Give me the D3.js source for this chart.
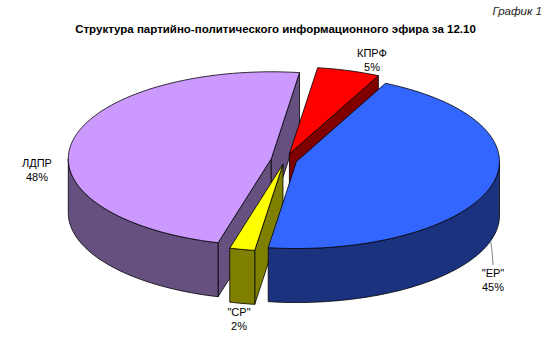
<!DOCTYPE html>
<html><head><meta charset="utf-8">
<script src="https://cdn.jsdelivr.net/npm/d3@7"></script>
<style>html,body{margin:0;padding:0;background:#fff;}svg{display:block;}</style>
</head><body>
<script>
// ---- data ----
const categories = ["КПРФ", "\"ЕР\"", "\"СР\"", "ЛДПР"];
const values = [5, 45, 2, 48];
const percentLabels = ["5%", "45%", "2%", "48%"];
const topColors = ["#FF0000", "#3366FF", "#FFFF00", "#CC99FF"];
const sideColors = ["#800000", "#1B337F", "#808000", "#66507F"];
const titleText = "Структура партийно-политического информационного эфира за 12.10";
const captionText = "График 1";

// ---- layout ----
const W = 550, H = 339;
const cx = 285, cy = 160, rx = 203, ry = 87, depth = 54;
const firstSliceDeg = 8;
const explode = [15, 12, 10, 14];
const labelAnchor = [[372, 57], [493, 277], [239, 316], [37, 167]];
const leaderTo = [null, [493, 265], null, null];

const svg = d3.select("body").append("svg").attr("width", W).attr("height", H);
svg.append("rect").attr("width", W).attr("height", H).attr("fill", "#fff");

const t0 = firstSliceDeg * Math.PI / 180;
const arcs = d3.pie().sort(null).value(d => d).startAngle(t0).endAngle(t0 + 2 * Math.PI)(values);

const k = ry / rx;
function offset(i) {
  const a = arcs[i], mid = (a.startAngle + a.endAngle) / 2, e = explode[i];
  return [e * Math.sin(mid), -e * k * Math.cos(mid)];
}
function P(a, r, o, z) {
  return [cx + o[0] + r * rx * Math.sin(a), cy + o[1] - r * ry * Math.cos(a) + z];
}
function sampleAngles(a0, a1) {
  const n = Math.max(2, Math.ceil(Math.abs(a1 - a0) / (Math.PI / 180)));
  return d3.range(n + 1).map(j => a0 + (a1 - a0) * j / n);
}
const closed = d3.line().curve(d3.curveLinearClosed);

// drawing order from visibility of shared radial faces
const n = arcs.length;
const after = d3.range(n).map(() => []); // edges u -> v : draw u before v
const indeg = new Array(n).fill(0);
for (let i = 0; i < n; i++) {
  const j = (i + 1) % n;
  const b = arcs[i].endAngle;
  if (Math.sin(b) > 0) { after[i].push(j); indeg[j]++; }
  else { after[j].push(i); indeg[i]++; }
}
const order = [];
const queue = d3.range(n).filter(i => indeg[i] === 0);
while (queue.length) {
  const u = queue.shift(); order.push(u);
  after[u].forEach(v => { if (--indeg[v] === 0) queue.push(v); });
}
d3.range(n).forEach(i => { if (!order.includes(i)) order.push(i); });

const g = svg.append("g");
const strokeW = 0.8;
order.forEach(i => {
  const a = arcs[i], o = offset(i);
  const a0 = a.startAngle, a1 = a.endAngle;
  const sg = g.append("g");
  const apexT = P(0, 0, o, 0), apexB = P(0, 0, o, depth);
  // radial faces
  if (Math.sin(a0) < 0) {
    sg.append("path").attr("d", closed([apexT, P(a0, 1, o, 0), P(a0, 1, o, depth), apexB]))
      .attr("fill", sideColors[i]).attr("stroke", "#000").attr("stroke-width", strokeW).attr("stroke-linejoin", "round");
  }
  if (Math.sin(a1) > 0) {
    sg.append("path").attr("d", closed([apexT, P(a1, 1, o, 0), P(a1, 1, o, depth), apexB]))
      .attr("fill", sideColors[i]).attr("stroke", "#000").attr("stroke-width", strokeW).attr("stroke-linejoin", "round");
  }
  // outer wall (front half only)
  [0, 1].forEach(kk => {
    const lo = Math.max(a0, Math.PI / 2 + kk * 2 * Math.PI);
    const hi = Math.min(a1, 3 * Math.PI / 2 + kk * 2 * Math.PI);
    if (hi > lo) {
      const angs = sampleAngles(lo, hi);
      const pts = angs.map(t => P(t, 1, o, 0)).concat(angs.slice().reverse().map(t => P(t, 1, o, depth)));
      sg.append("path").attr("d", closed(pts))
        .attr("fill", sideColors[i]).attr("stroke", "#000").attr("stroke-width", strokeW).attr("stroke-linejoin", "round");
    }
  });
  // top face
  const topPts = [apexT].concat(sampleAngles(a0, a1).map(t => P(t, 1, o, 0)));
  sg.append("path").attr("d", closed(topPts))
    .attr("fill", topColors[i]).attr("stroke", "#000").attr("stroke-width", strokeW).attr("stroke-linejoin", "round");
});

// leader lines
arcs.forEach((a, i) => {
  if (!leaderTo[i]) return;
  const mid = (a.startAngle + a.endAngle) / 2;
  const s = P(mid, 1, offset(i), depth);
  const e = leaderTo[i];
  const m = [s[0] + (e[0] - s[0]) * 0.7, s[1] + (e[1] - s[1]) * 0.45];
  svg.append("path").attr("d", d3.line().curve(d3.curveBasis)([s, m, e]))
    .attr("fill", "none").attr("stroke", "#808080").attr("stroke-width", 1);
});

// labels
const font = "Arial, 'Liberation Sans', sans-serif";
arcs.forEach((a, i) => {
  const [lx, ly] = labelAnchor[i];
  const t = svg.append("text").attr("x", lx).attr("y", ly).attr("text-anchor", "middle")
    .attr("font-family", font).attr("font-size", 11).attr("fill", "#000");
  t.append("tspan").attr("x", lx).text(categories[i]);
  t.append("tspan").attr("x", lx).attr("dy", 14).text(percentLabels[i]);
});

svg.append("text").attr("x", 275.5).attr("y", 33).attr("text-anchor", "middle")
  .attr("font-family", font).attr("font-size", 11.5).attr("font-weight", "bold").attr("fill", "#000")
  .text(titleText);
svg.append("text").attr("x", 542).attr("y", 15).attr("text-anchor", "end")
  .attr("font-family", font).attr("font-size", 11.5).attr("font-style", "italic").attr("fill", "#222")
  .text(captionText);
</script>
</body></html>
